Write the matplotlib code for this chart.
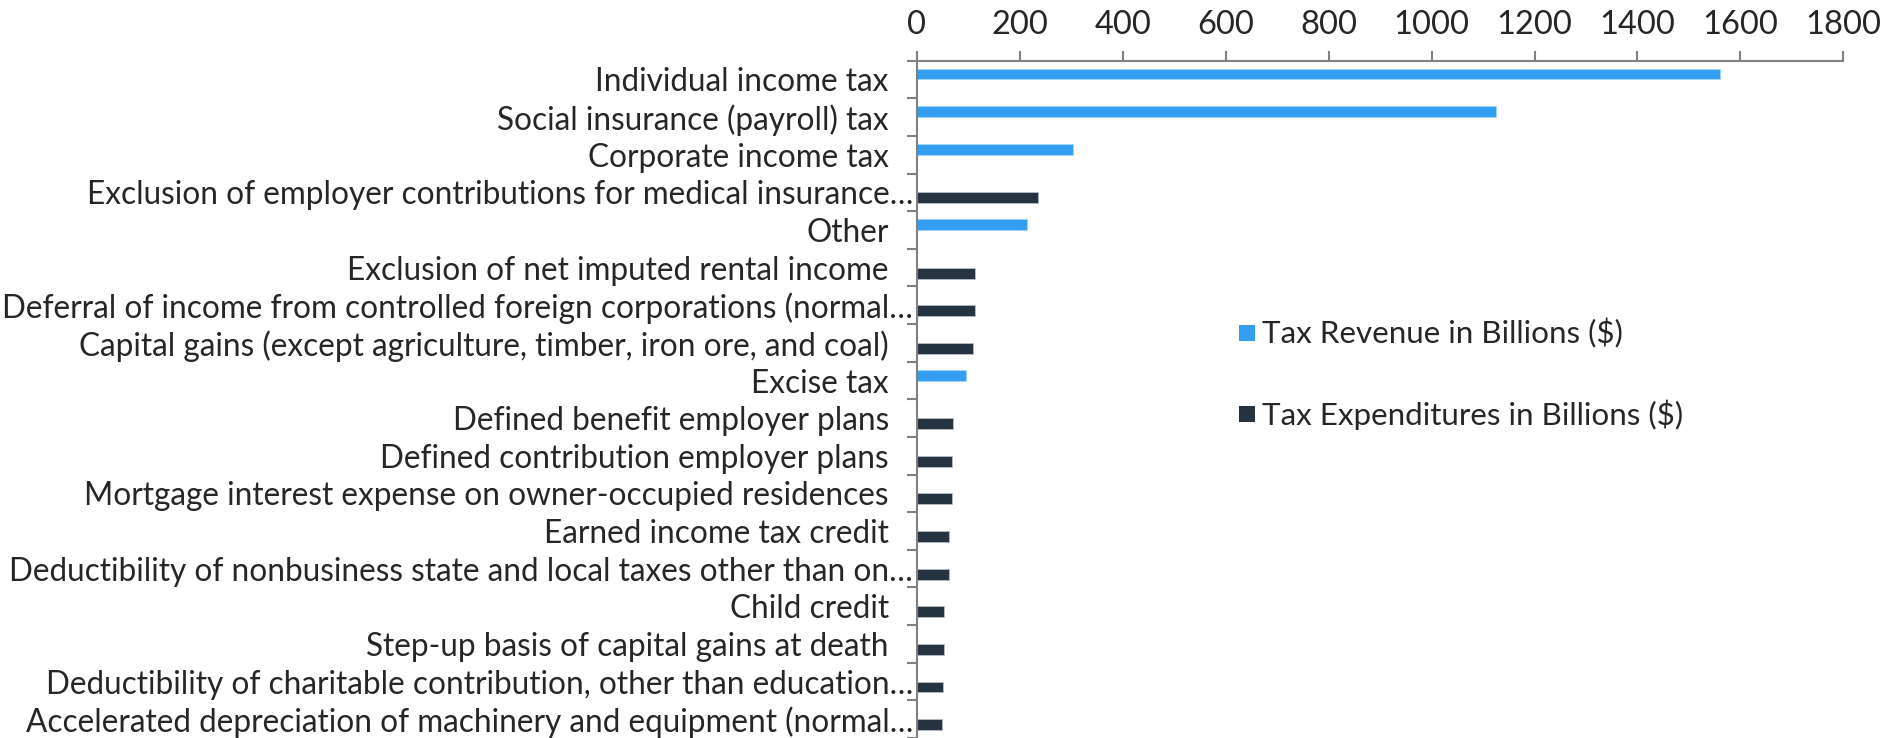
import matplotlib
matplotlib.use('Agg')
import matplotlib.pyplot as plt
import numpy as np
from matplotlib.lines import Line2D

categories = [
    'Individual income tax',
    'Social insurance (payroll) tax',
    'Corporate income tax',
    'Exclusion of employer contributions for medical insurance…',
    'Other',
    'Exclusion of net imputed rental income',
    'Deferral of income from controlled foreign corporations (normal…',
    'Capital gains (except agriculture, timber, iron ore, and coal)',
    'Excise tax',
    'Defined benefit employer plans',
    'Defined contribution employer plans',
    'Mortgage interest expense on owner-occupied residences',
    'Earned income tax credit',
    'Deductibility of nonbusiness state and local taxes other than on…',
    'Child credit',
    'Step-up basis of capital gains at death',
    'Deductibility of charitable contribution, other than education…',
    'Accelerated depreciation of machinery and equipment (normal…',
]
revenue = [1561, 1125, 304, 0, 214, 0, 0, 0, 96, 0, 0, 0, 0, 0, 0, 0, 0, 0]
expenditures = [0, 0, 0, 236, 0, 113, 113, 109, 0, 71, 69, 68, 63, 63,
                54, 54, 51, 50]
series_names = ['Tax Revenue in Billions ($)',
                'Tax Expenditures in Billions ($)']
x_ticks = list(range(0, 1801, 200))

BLUE = '#339ef2'
NAVY = '#263340'
TEXT = '#262626'
GRID = '#808080'

plt.rcParams['font.family'] = ['Lato', 'DejaVu Sans']

fig = plt.figure(figsize=(18.83, 7.38), dpi=100)
ax = fig.add_axes([0.4868, 0.0, 0.4922, 0.9178])

y = np.arange(len(categories))
h = 0.29
ax.barh(y - h / 2, revenue, height=h, color=BLUE,
        edgecolor='#a6d3f7', linewidth=0.6)
ax.barh(y + h / 2, expenditures, height=h, color=NAVY,
        edgecolor='#b8bec6', linewidth=0.6)

ax.set_xlim(0, 1800)
ax.set_ylim(len(categories) - 0.5, -0.5)

ax.xaxis.tick_top()
ax.set_xticks(x_ticks)
ax.set_xticklabels([str(v) for v in x_ticks])
ax.tick_params(axis='x', direction='out', length=7.2, width=1.5,
               color=GRID, labelsize=23.5, labelcolor=TEXT, pad=8)

# separators between categories, labels at the centres
ax.set_yticks(np.arange(len(categories) + 1) - 0.5)
ax.set_yticklabels([])
ax.set_yticks(y, minor=True)
ax.set_yticklabels(categories, minor=True)
ax.tick_params(axis='y', which='major', direction='out', length=7.2,
               width=1.5, color=GRID)
ax.tick_params(axis='y', which='minor', length=0, labelsize=22.7,
               labelcolor=TEXT, pad=20)
for tick, name in zip(ax.yaxis.get_minor_ticks(), categories):
    if name.endswith('…'):
        tick.set_pad(2.5)

for side in ['right', 'bottom']:
    ax.spines[side].set_visible(False)
for side in ['top', 'left']:
    ax.spines[side].set_color(GRID)
    ax.spines[side].set_linewidth(1.5)

handles = [
    Line2D([], [], marker='s', linestyle='none', markersize=12.2,
           markerfacecolor=BLUE, markeredgewidth=0),
    Line2D([], [], marker='s', linestyle='none', markersize=12.2,
           markerfacecolor=NAVY, markeredgewidth=0),
]
leg = fig.legend(handles, series_names, loc='upper left',
                 bbox_to_anchor=(0.657, 0.568), frameon=False,
                 fontsize=22.6, handlelength=0.6, handletextpad=0.2,
                 labelspacing=1.6, borderpad=0, borderaxespad=0)
for t in leg.get_texts():
    t.set_color(TEXT)

fig.savefig('out.png', dpi=100)
